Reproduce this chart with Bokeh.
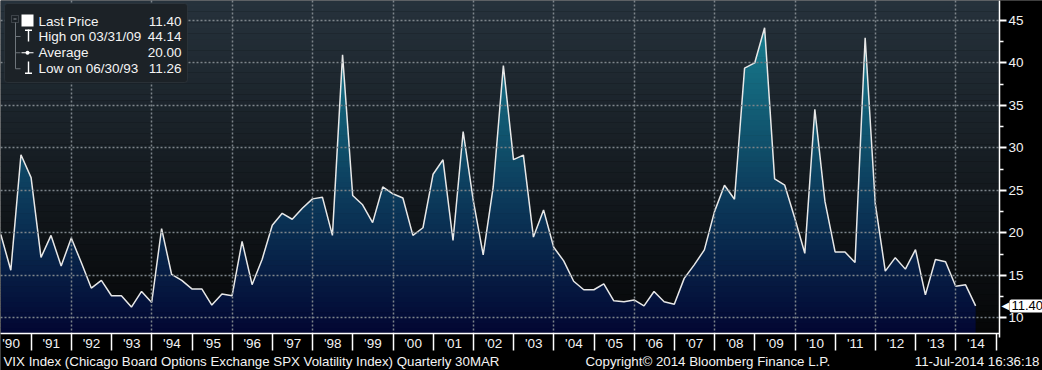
import numpy as np
import pandas as pd
from bokeh.plotting import figure
from bokeh.models import Range1d, FixedTicker, Label, BoxAnnotation
from bokeh.embed import file_html
from bokeh.resources import INLINE

# ---------------- data ----------------
years = list(range(1990, 2015))
quarter_ends = [(3, 31), (6, 30), (9, 30), (12, 31)]
vix = [19.8, 15.6, 29.2, 26.5,      # 1990
       17.1, 19.7, 16.1, 19.4,      # 1991
       16.5, 13.5, 14.4, 12.6,      # 1992
       12.6, 11.26, 13.1, 11.8,     # 1993
       20.5, 15.1, 14.4, 13.4,      # 1994
       13.4, 11.5, 12.8, 12.6,      # 1995
       19.0, 13.9, 16.9, 20.9,      # 1996
       22.3, 21.6, 22.9, 24.0,      # 1997
       24.2, 19.7, 40.95, 24.4,     # 1998
       23.3, 21.2, 25.4, 24.6,      # 1999
       24.1, 19.7, 20.6, 26.9,      # 2000
       28.6, 19.1, 31.93, 23.8,     # 2001
       17.4, 25.4, 39.69, 28.62,    # 2002
       29.15, 19.5, 22.7, 18.31,    # 2003
       16.7, 14.3, 13.3, 13.3,      # 2004
       14.0, 12.0, 11.9, 12.1,      # 2005
       11.4, 13.1, 11.9, 11.6,      # 2006
       14.64, 16.23, 18.0, 22.5,    # 2007
       25.61, 23.95, 39.39, 40.0,   # 2008
       44.14, 26.35, 25.61, 21.68,  # 2009
       17.59, 34.54, 23.7, 17.75,   # 2010
       17.74, 16.52, 42.96, 23.4,   # 2011
       15.5, 17.08, 15.73, 18.02,   # 2012
       12.7, 16.86, 16.6, 13.72,    # 2013
       13.88, 11.40]                # 2014
y_ticks = [10, 15, 20, 25, 30, 35, 40, 45]
year_labels = ["'%02d" % (y % 100) for y in years]
legend_rows = [("Last Price", "11.40"), ("High on 03/31/09", "44.14"),
               ("Average", "20.00"), ("Low on 06/30/93", "11.26")]
last_price = 11.40
footer_left = "VIX Index (Chicago Board Options Exchange SPX Volatility Index)  Quarterly 30MAR"
footer_mid = "Copyright\u00a9 2014 Bloomberg Finance L.P."
footer_right = "11-Jul-2014 16:36:18"

dates = [pd.Timestamp(y, m, d) for y in years for (m, d) in quarter_ends][:len(vix)]
t = np.array([d.year + (d.dayofyear - 1) / (366 if d.is_leap_year else 365) for d in dates])
v = np.array(vix, dtype=float)

# ---------------- figure ----------------
FONT = "Liberation Sans"
W, H = 1042, 370
PXY = 40.2            # px per year
PXV = 8.495           # px per VIX point
X0 = 1991 - 30.7 / PXY
X1 = X0 + W / PXY
Y1 = 10 + 317.3 / PXV
Y0 = Y1 - H / PXV
T_AX = X0 + 999 / PXY     # right axis position (data)
V_AX = Y1 - 333 / PXV     # bottom axis position (data)

p = figure(width=W, height=H, output_backend="svg", toolbar_location=None,
           x_range=Range1d(X0, X1), y_range=Range1d(Y0, Y1), y_axis_location="right",
           min_border=0, min_border_left=0, min_border_right=0, min_border_top=0,
           min_border_bottom=0, border_fill_color="black", background_fill_color="black",
           outline_line_color=None)


def lerp(c0, c1, f):
    return "#%02x%02x%02x" % tuple(int(round(a + (b - a) * f)) for a, b in zip(c0, c1))


# background vertical gradient (plot region only)
nbg = 60
bedges = np.linspace(V_AX, Y1, nbg + 1)
bcols = [lerp((5, 6, 7), (38, 50, 60), ((lo + hi) / 2 - V_AX) / (Y1 - V_AX))
         for lo, hi in zip(bedges[:-1], bedges[1:])]
p.quad(left=[X0] * nbg, right=[T_AX] * nbg, bottom=list(bedges[:-1]),
       top=list(bedges[1:] + 0.03), fill_color=bcols, line_color=None)

# area with vertical gradient: split the line exactly where it crosses band edges
nb = 64
aedges = np.linspace(V_AX, Y1, nb + 1)
xs_r, fs_r = [t[0]], [v[0]]
for i in range(len(t) - 1):
    x0, x1, v0, v1 = t[i], t[i + 1], v[i], v[i + 1]
    lo, hi = min(v0, v1), max(v0, v1)
    cr = aedges[(aedges > lo) & (aedges < hi)]
    if len(cr):
        for f in np.sort((cr - v0) / (v1 - v0)):
            xs_r.append(x0 + f * (x1 - x0))
            fs_r.append(v0 + f * (v1 - v0))
    xs_r.append(x1)
    fs_r.append(v1)
xs_r = np.array(xs_r)
fs_r = np.array(fs_r)

pxs, pys, pcols = [], [], []
eps = 0.06
for j in range(nb):
    lo, hi = aedges[j], aedges[j + 1]
    col = lerp((2, 6, 50), (26, 135, 150), ((lo + hi) / 2 - V_AX) / (Y1 - V_AX))
    idx = np.where(fs_r >= lo - 1e-9)[0]
    if len(idx) == 0:
        continue
    for r in np.split(idx, np.where(np.diff(idx) != 1)[0] + 1):
        if len(r) < 2:
            continue
        xx = xs_r[r]
        top = np.minimum(fs_r[r], hi + eps)
        bot = np.full(len(r), lo)
        pxs.append(np.concatenate([xx, xx[::-1]]))
        pys.append(np.concatenate([top, bot[::-1]]))
        pcols.append(col)
p.patches(xs=pxs, ys=pys, fill_color=pcols, line_color=None)

p.line(t, v, line_color="#e8e8e8", line_width=1.5)

# dashed grid drawn by Bokeh's grids, above the glyphs
xgrid_ticks = list(range(1992, 2015, 2))
p.ygrid.ticker = FixedTicker(ticks=y_ticks)
p.xgrid.ticker = FixedTicker(ticks=xgrid_ticks)
for g in (p.xgrid, p.ygrid):
    g.grid_line_color = "#7d848a"
    g.grid_line_dash = "2 2"
    g.grid_line_width = 1.5
    g.level = "guide"


# helpers: window px -> screen units (frame == canvas, y measured from bottom)
def sx(wx):
    return wx


def sy(wy):
    return H - wy


def box(x0, y0, x1, y1, fill, line=None, radius=0, level="overlay"):
    p.add_layout(BoxAnnotation(left=sx(x0), right=sx(x1), top=sy(y0), bottom=sy(y1),
                               left_units="screen", right_units="screen",
                               top_units="screen", bottom_units="screen",
                               fill_color=fill, fill_alpha=1 if fill else 0,
                               line_color=line, line_width=1, border_radius=radius,
                               level=level))


# black masks so the grid stops at the axes
box(999.5, -2, W + 2, 333, "black", None, 0, "guide")
box(-2, 333.6, W + 2, H + 2, "black", None, 0, "guide")

# x axis: labels mid-year, separators (minor ticks) at year boundaries
xa = p.xaxis[0]
xa.fixed_location = V_AX
xa.bounds = (X0, T_AX)
xa.level = "overlay"
xa.ticker = FixedTicker(ticks=[y + 0.5 for y in years], minor_ticks=list(range(1991, 2016)))
xa.major_label_overrides = {y + 0.5: lab for y, lab in zip(years, year_labels)}
xa.axis_line_color = "white"
xa.axis_line_width = 1.5
xa.major_tick_line_color = None
xa.major_tick_out = 0
xa.major_tick_in = 0
xa.minor_tick_line_color = "white"
xa.minor_tick_line_width = 1.5
xa.minor_tick_out = 17
xa.minor_tick_in = 0
xa.major_label_standoff = -15
xa.major_label_text_color = "#f2f2f2"
xa.major_label_text_font = FONT
xa.major_label_text_font_size = "13.5px"

ya = p.yaxis[0]
ya.fixed_location = T_AX
ya.bounds = (V_AX - 0.5, Y1)
ya.level = "overlay"
ya.ticker = FixedTicker(ticks=y_ticks, minor_ticks=[y + 2.5 for y in y_ticks])
ya.axis_line_color = "white"
ya.axis_line_width = 1.5
ya.major_tick_line_color = "white"
ya.major_tick_line_width = 2
ya.major_tick_out = 7
ya.major_tick_in = 0
ya.minor_tick_line_color = "white"
ya.minor_tick_line_width = 1.5
ya.minor_tick_out = 4
ya.minor_tick_in = 0
ya.major_label_standoff = 2
ya.major_label_text_color = "#f2f2f2"
ya.major_label_text_font = FONT
ya.major_label_text_font_size = "13.5px"


def text(wx, wy, s, align="left", color="#f4f4f4", size="13.5px"):
    p.add_layout(Label(x=sx(wx), y=sy(wy), x_units="screen", y_units="screen", text=s,
                       text_align=align, text_baseline="middle", text_color=color,
                       text_font=FONT, text_font_size=size, level="overlay"))


# legend box
box(4, 3, 187, 82, "#1c2227", "#454d54", 3)
rows_y = [20.5, 36, 52.3, 68.3]
box(11, 15, 18, 22, None, "#8d949a")
box(13, 18, 16, 19, "#8d949a")
box(14.5, 22, 15.5, 68.3, "#6e757b")
for ry in rows_y[1:]:
    box(15, ry - 0.5, 20, ry + 0.5, "#6e757b")
box(21, 14, 33, 26, "white")
box(24.5, 29, 31.5, 30.5, "white")
box(27.3, 29, 28.7, 41, "white")
box(21, 51.8, 33, 52.8, "white")
box(25, 50.3, 29, 54.3, "white", None, 2)
box(27.3, 61, 28.7, 73, "white")
box(24.5, 72, 31.5, 73.5, "white")
for (lab, val), ry in zip(legend_rows, rows_y):
    text(38, ry, lab)
    text(181, ry, val, align="right")

# last price callout on the right axis
p.add_layout(Label(x=1001, y=last_price, x_units="screen", y_units="data", text="\u25c0",
                   text_align="left", text_baseline="middle", text_color="white",
                   text_font="DejaVu Sans", text_font_size="10px", level="overlay"))
p.add_layout(Label(x=1009, y=last_price, x_units="screen", y_units="data",
                   text="%.2f" % last_price, text_align="left", text_baseline="middle",
                   text_color="black", text_font=FONT, text_font_size="13px",
                   background_fill_color="white", padding=2, border_radius=2,
                   level="overlay"))

# footer
fy = 360.5
text(3, fy, footer_left, size="13.3px")
text(585, fy, footer_mid, size="13.3px")
text(1039, fy, footer_right, align="right", size="13.3px")

open("out.html", "w").write(file_html(p, INLINE))
